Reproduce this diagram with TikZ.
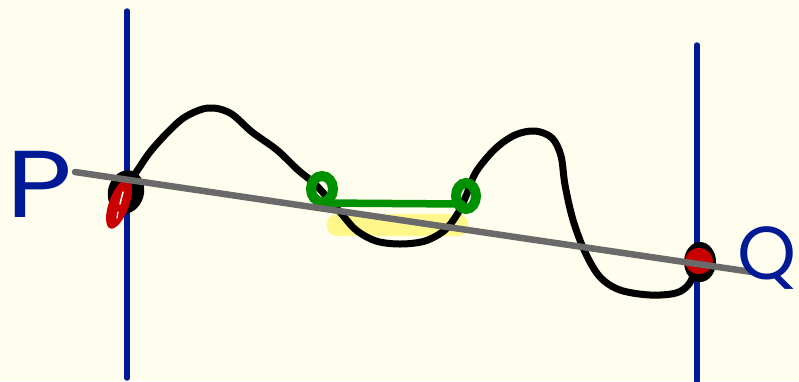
\documentclass[tikz,border=0pt]{standalone}
\usepackage{fontspec}
\newfontfamily\handfont{Poppins}
\definecolor{bgc}{RGB}{254,253,238}
\definecolor{inkblue}{RGB}{0,26,150}
\definecolor{inkgreen}{RGB}{0,145,0}
\definecolor{inkred}{RGB}{200,0,0}
\definecolor{inkgray}{RGB}{106,106,106}
\definecolor{hilite}{RGB}{255,247,138}
\tikzset{
  bluestroke/.style={draw=inkblue, line width=5.5pt, line cap=round},
  curvestroke/.style={draw=black, line width=7pt, line cap=round, line join=round},
  greenstroke/.style={draw=inkgreen, line width=7.5pt, line cap=round},
  greenring/.style={draw=inkgreen, line width=10pt},
  graystroke/.style={draw=inkgray, line width=6.5pt, line cap=round},
  letter/.style={text=inkblue, font=\handfont\fontsize{100}{100}\selectfont, inner sep=0pt},
}
\begin{document}
\begin{tikzpicture}[x=1pt, y=-1pt]
\fill[bgc] (0,0) rectangle (799,381);
\useasboundingbox (0,0) rectangle (799,381);
% yellow highlight
\fill[hilite, rounded corners=10pt] (327,214) rectangle (468,236);
% vertical lines
\draw[bluestroke] (127,11) -- (127,378);
\draw[bluestroke] (697,45) -- (697,381);
% black curve
\draw[curvestroke] plot[smooth, tension=0.55] coordinates {
 (127,186) (137,171) (150,152) (167,133) (185,117) (208,108) (230,113) (252,132)
 (277,150) (298,170) (314,183) (326,196) (340,212) (356,230) (376,241) (400,244)
 (425,241) (445,230) (458,213) (466,196) (476,172) (495,149) (515,135) (535,131)
 (552,138) (561,156) (565,185) (573,220) (585,252) (600,277) (620,290) (650,295)
 (676,293) (689,284) (697,266)};
% left blob
\fill[black, rotate around={-15:(126,192)}] (126,192) ellipse [x radius=18pt, y radius=22pt];
\fill[inkred, rotate around={-20:(119,204)}] (119,204) ellipse [x radius=10pt, y radius=26pt];
\draw[bgc, line width=1.5pt, line cap=round] (123,192) -- (120,204);
\draw[bgc, line width=1.2pt, line cap=round] (118,212) -- (117,218);
% right blob
\fill[black] (700,262) ellipse [x radius=16pt, y radius=20pt];
\fill[inkred] (699,261) ellipse [x radius=14pt, y radius=13pt];
% green
\draw[greenstroke] (323,203) -- (462,204);
\draw[greenring] (322,189) ellipse [x radius=11pt, y radius=13pt];
\draw[greenring] (466,196) ellipse [x radius=10pt, y radius=13pt];
% gray line
\draw[graystroke] (75,172) -- (752,272);
% letters
\node[letter, xscale=1.2, scale=0.95] (P) at (40,184) {P};
\node[letter, scale=0.75] (Q) at (767,258) {Q};
\end{tikzpicture}
\end{document}
